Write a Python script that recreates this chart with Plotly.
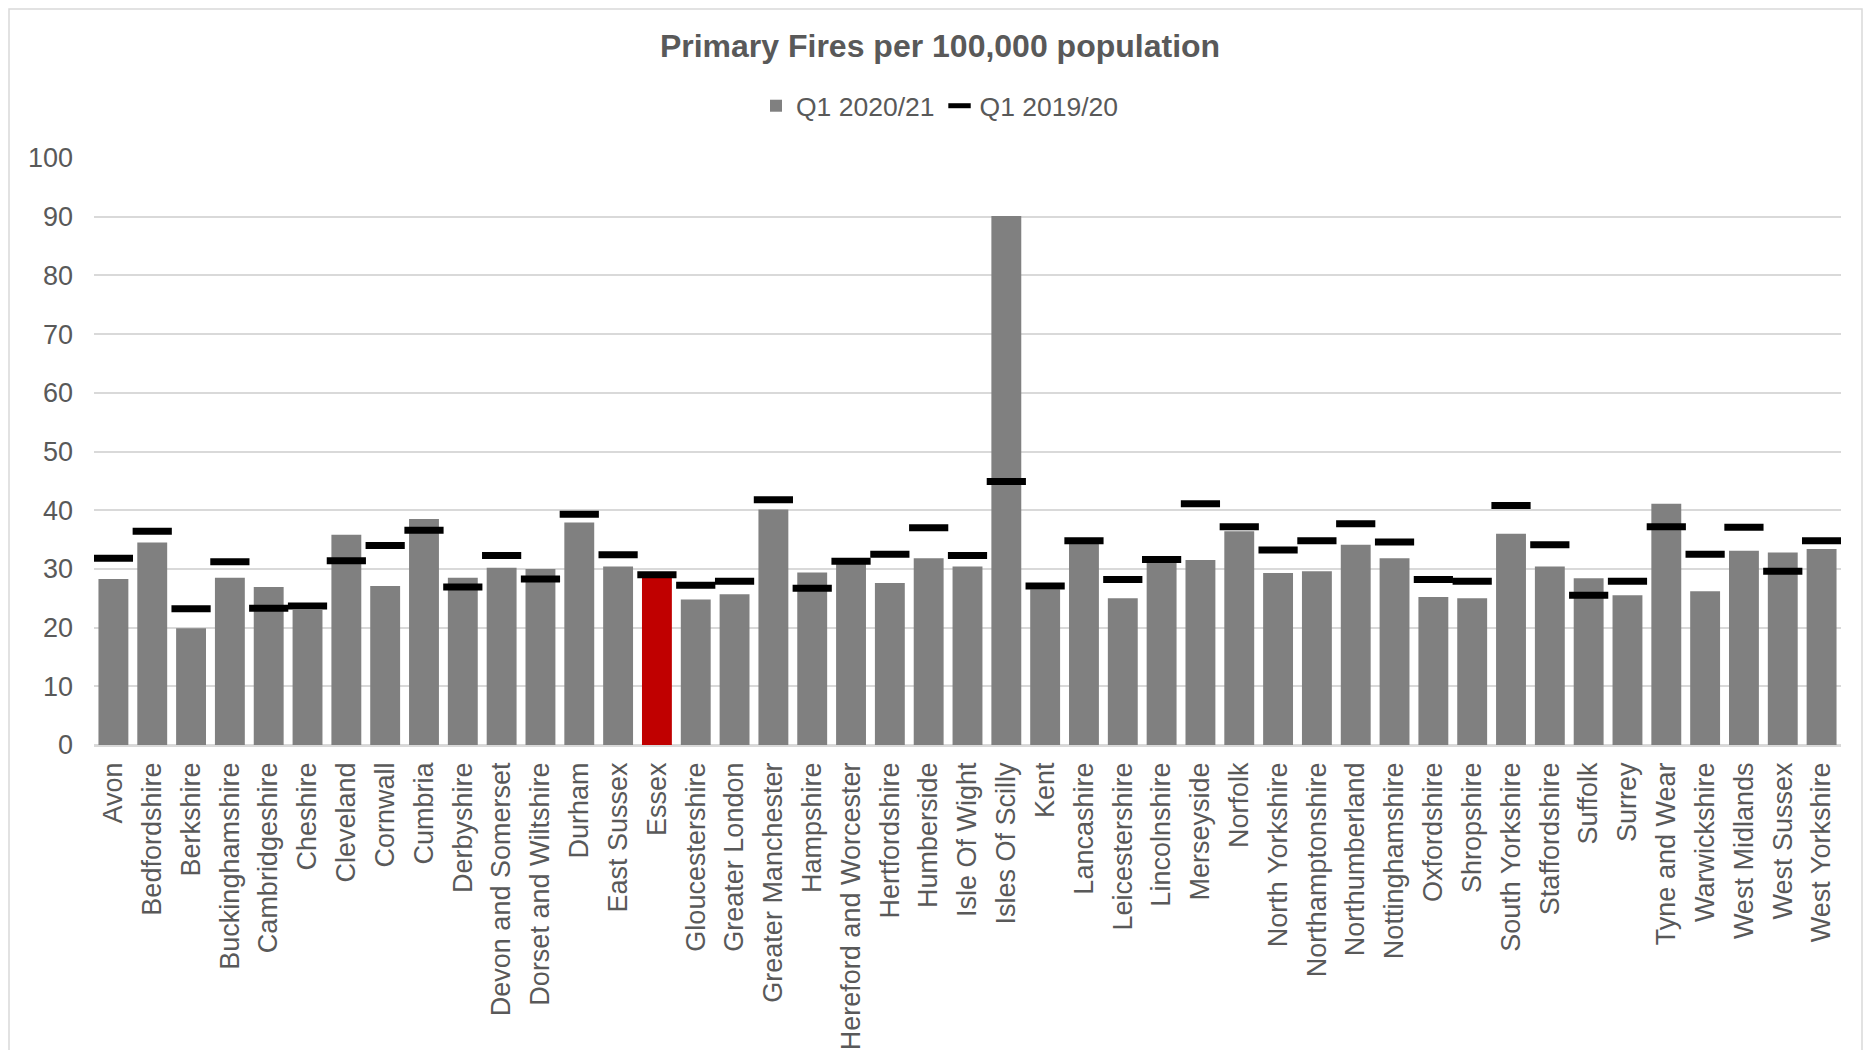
import plotly.graph_objects as go

categories = ["Avon", "Bedfordshire", "Berkshire", "Buckinghamshire", "Cambridgeshire", "Cheshire",
              "Cleveland", "Cornwall", "Cumbria", "Derbyshire", "Devon and Somerset",
              "Dorset and Wiltshire", "Durham", "East Sussex", "Essex", "Gloucestershire",
              "Greater London", "Greater Manchester", "Hampshire", "Hereford and Worcester",
              "Hertfordshire", "Humberside", "Isle Of Wight", "Isles Of Scilly", "Kent",
              "Lancashire", "Leicestershire", "Lincolnshire", "Merseyside", "Norfolk",
              "North Yorkshire", "Northamptonshire", "Northumberland", "Nottinghamshire",
              "Oxfordshire", "Shropshire", "South Yorkshire", "Staffordshire", "Suffolk",
              "Surrey", "Tyne and Wear", "Warwickshire", "West Midlands", "West Sussex",
              "West Yorkshire"]

q1_2020_21 = [28.3, 34.5, 19.9, 28.5, 26.9, 23.0, 35.8, 27.1, 38.5, 28.5, 30.2, 30.0, 37.9, 30.4,
              29.2, 24.8, 25.7, 40.1, 29.4, 31.0, 27.6, 31.8, 30.4, 90.1, 26.5, 34.3, 25.0, 31.0,
              31.5, 36.4, 29.3, 29.6, 34.1, 31.8, 25.2, 25.0, 36.0, 30.4, 28.4, 25.5, 41.1, 26.2,
              33.1, 32.8, 33.4]

q1_2019_20 = [31.8, 36.4, 23.2, 31.2, 23.3, 23.7, 31.4, 34.0, 36.6, 26.9, 32.3, 28.3, 39.3, 32.4,
              29.0, 27.2, 27.9, 41.8, 26.7, 31.3, 32.5, 37.0, 32.3, 44.9, 27.1, 34.8, 28.2, 31.6,
              41.1, 37.2, 33.2, 34.8, 37.7, 34.6, 28.2, 27.9, 40.8, 34.1, 25.5, 27.9, 37.2, 32.5,
              37.1, 29.6, 34.8]

highlight = "Essex"
y_ticks = [0, 10, 20, 30, 40, 50, 60, 70, 80, 90, 100]

GREY = "#808080"
RED = "#C00000"
TEXT = "#595959"
GRID = "#D9D9D9"
FONT = "Liberation Sans, Arial, sans-serif"

bar_colors = [RED if c == highlight else GREY for c in categories]

fig = go.Figure()
fig.add_trace(go.Bar(
    x=categories, y=q1_2020_21, name="Q1 2020/21",
    marker=dict(color=bar_colors, line=dict(width=0)),
))
fig.add_trace(go.Scatter(
    x=categories, y=q1_2019_20, name="Q1 2019/20", mode="markers",
    marker=dict(symbol="line-ew", size=28, color="black",
                line=dict(color="black", width=7)),
))

# page body has an 8px margin; figure origin sits at page (8, 8)
OFF = 8
W, H = 1872 - 2 * OFF, 1058 - 2 * OFF
PX_L, PX_R, PX_T, PX_B = 94, 1841, 158, 745   # plot area in page pixels
L = PX_L - OFF
T = PX_T - OFF
R = W - (PX_R - OFF)
B = H - (PX_B - OFF)
pw, ph = W - L - R, H - T - B


def px_to_paper_x(px):
    return (px - PX_L) / pw


def py_to_paper_y(py):
    return (PX_B - py) / ph


fig.update_layout(
    width=W, height=H,
    margin=dict(l=L, r=R, t=T, b=B, autoexpand=False),
    paper_bgcolor="white", plot_bgcolor="white",
    font=dict(family=FONT, size=27, color=TEXT),
    bargap=0.23,
    showlegend=True,
    title=dict(text="Primary Fires per 100,000 population",
               font=dict(family=FONT, size=32, color=TEXT, weight="bold"),
               x=px_to_paper_x(940), xanchor="center", xref="paper",
               y=1 - (46 - OFF) / H, yanchor="middle", yref="container"),
    legend=dict(orientation="h", x=px_to_paper_x(940), xanchor="center",
                y=py_to_paper_y(106), yanchor="middle",
                font=dict(family=FONT, size=26.5, color=TEXT),
                itemwidth=30, tracegroupgap=0, bgcolor="rgba(0,0,0,0)"),
    xaxis=dict(type="category", range=[-0.5, len(categories) - 0.5],
               tickangle=-90, showgrid=False, ticks="",
               showline=True, linecolor=GRID, linewidth=1.5,
               tickfont=dict(family=FONT, size=27, color=TEXT),
               ticklabelstandoff=5),
    yaxis=dict(range=[0, 100], tickvals=y_ticks, showgrid=True, gridcolor=GRID, gridwidth=1.5,
               zeroline=True, zerolinecolor=GRID, zerolinewidth=1.5, showline=False, ticks="",
               tickfont=dict(family=FONT, size=27, color=TEXT), ticklabelstandoff=20),
    shapes=[dict(type="rect", xref="paper", yref="paper",
                 x0=px_to_paper_x(9), x1=px_to_paper_x(1862),
                 y0=py_to_paper_y(1062), y1=py_to_paper_y(9),
                 line=dict(color=GRID, width=1.5), fillcolor="rgba(0,0,0,0)", layer="below")],
)

fig.write_html("out.html")
